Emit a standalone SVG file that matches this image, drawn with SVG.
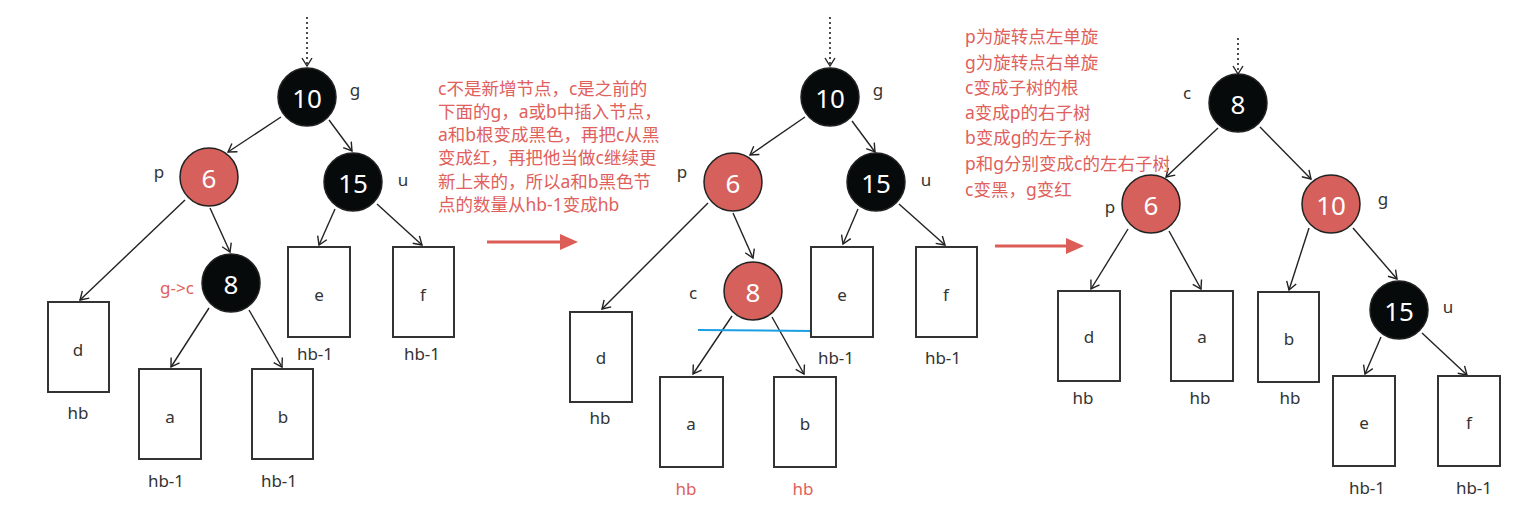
<svg xmlns="http://www.w3.org/2000/svg" width="1529" height="518" viewBox="0 0 1529 518">
<style>
text{font-family:"Noto Sans","Noto Sans CJK SC",sans-serif}
.blk{fill:#060a0b;stroke:#222;stroke-width:1.5}
.red{fill:#d6605b;stroke:#222;stroke-width:1.5}
.num{fill:#fff;font-size:26px;text-anchor:middle;dominant-baseline:central}
.lbl{fill:#333;font-size:17px;text-anchor:middle;dominant-baseline:central}
.box{fill:#fff;stroke:#333;stroke-width:2}
.bl{fill:#333;font-size:17px;text-anchor:middle;dominant-baseline:central}
.rl{fill:#e0605b;font-size:17px;text-anchor:middle;dominant-baseline:central}
.note{fill:#e0605b;font-size:17.5px}
.edge{stroke:#222;stroke-width:1.4;fill:none;marker-end:url(#ah)}
.dot{stroke:#222;stroke-width:1.6;fill:none;stroke-dasharray:2,3;marker-end:url(#ah)}
.big{stroke:#dc5c56;stroke-width:3;fill:none}
</style>
<defs>
<marker id="ah" markerWidth="12" markerHeight="12" refX="10" refY="6" orient="auto" markerUnits="userSpaceOnUse">
<path d="M2,1 L10,6 L2,11" fill="none" stroke="#222" stroke-width="1.4"/>
</marker>
</defs>
<rect width="1529" height="518" fill="#fff"/>

<g id="connectors">
<!-- left tree -->
<line class="dot" x1="307" y1="17" x2="307" y2="66"/>
<line class="edge" x1="281" y1="117" x2="228" y2="152"/>
<line class="edge" x1="329" y1="120" x2="352" y2="151"/>
<line class="edge" x1="185" y1="200" x2="80" y2="300"/>
<line class="edge" x1="210" y1="208" x2="230" y2="252"/>
<line class="edge" x1="335" y1="209" x2="319" y2="245"/>
<line class="edge" x1="377" y1="204" x2="422" y2="245"/>
<line class="edge" x1="209" y1="308" x2="171" y2="367"/>
<line class="edge" x1="249" y1="310" x2="282" y2="367"/>
<!-- middle tree -->
<line class="dot" x1="830" y1="17" x2="830" y2="66"/>
<line class="edge" x1="805" y1="117" x2="750" y2="155"/>
<line class="edge" x1="852" y1="121" x2="875" y2="152"/>
<line class="edge" x1="708" y1="203" x2="602" y2="309"/>
<line class="edge" x1="733" y1="213" x2="753" y2="258"/>
<line class="edge" x1="858" y1="209" x2="843" y2="244"/>
<line class="edge" x1="899" y1="204" x2="945" y2="245"/>
<line class="edge" x1="732" y1="316" x2="693" y2="374"/>
<line class="edge" x1="772" y1="317" x2="804" y2="374"/>
<!-- right tree -->
<line class="dot" x1="1238" y1="38" x2="1238" y2="74"/>
<line class="edge" x1="1218" y1="128" x2="1166" y2="177"/>
<line class="edge" x1="1260" y1="127" x2="1311" y2="179"/>
<line class="edge" x1="1128" y1="229" x2="1091" y2="289"/>
<line class="edge" x1="1169" y1="231" x2="1201" y2="289"/>
<line class="edge" x1="1309" y1="228" x2="1289" y2="290"/>
<line class="edge" x1="1353" y1="228" x2="1397" y2="279"/>
<line class="edge" x1="1381" y1="337" x2="1365" y2="374"/>
<line class="edge" x1="1422" y1="333" x2="1467" y2="375"/>
<!-- big red arrows -->
<line class="big" x1="487" y1="242" x2="562" y2="242"/>
<path d="M560,234 L578,242 L560,250 Z" fill="#dc5c56"/>
<line class="big" x1="995" y1="246" x2="1068" y2="246"/>
<path d="M1066,238 L1084,246 L1066,254 Z" fill="#dc5c56"/>
<!-- blue mark -->
<line x1="698" y1="330" x2="813" y2="331" stroke="#1aa0e2" stroke-width="2"/>
</g>

<!-- LEFT TREE -->
<g id="L10"><circle class="blk" cx="307" cy="97" r="29"/><text class="num" x="307" y="98">10</text><text class="lbl" x="355" y="89">g</text></g>
<g id="L6"><circle class="red" cx="209" cy="177" r="29"/><text class="num" x="209" y="178">6</text><text class="lbl" x="159" y="171">p</text></g>
<g id="L15"><circle class="blk" cx="353" cy="182" r="29"/><text class="num" x="353" y="183">15</text><text class="lbl" x="403" y="179">u</text></g>
<g id="L8"><circle class="blk" cx="231" cy="283" r="29"/><text class="num" x="231" y="284">8</text><text class="rl" x="177" y="287">g-&gt;c</text></g>
<g id="Ld"><rect class="box" x="48" y="302" width="61" height="90"/><text class="bl" x="78" y="349">d</text><text class="bl" x="78" y="412">hb</text></g>
<g id="La"><rect class="box" x="139" y="369" width="62" height="90"/><text class="bl" x="170" y="416">a</text><text class="bl" x="166" y="480">hb-1</text></g>
<g id="Lb"><rect class="box" x="252" y="369" width="61" height="90"/><text class="bl" x="283" y="416">b</text><text class="bl" x="279" y="480">hb-1</text></g>
<g id="Le"><rect class="box" x="288" y="247" width="62" height="90"/><text class="bl" x="319" y="294">e</text><text class="bl" x="315" y="353">hb-1</text></g>
<g id="Lf"><rect class="box" x="393" y="247" width="61" height="90"/><text class="bl" x="423" y="294">f</text><text class="bl" x="422" y="353">hb-1</text></g>

<!-- MIDDLE NOTE -->
<g id="note1" class="note">
<text x="438" y="95">c不是新增节点，c是之前的</text>
<text x="438" y="118">下面的g，a或b中插入节点，</text>
<text x="438" y="141">a和b根变成黑色，再把c从黑</text>
<text x="438" y="164">变成红，再把他当做c继续更</text>
<text x="438" y="188">新上来的，所以a和b黑色节</text>
<text x="438" y="211">点的数量从hb-1变成hb</text>
</g>

<!-- MIDDLE TREE -->
<g id="M10"><circle class="blk" cx="830" cy="97" r="29"/><text class="num" x="830" y="98">10</text><text class="lbl" x="878" y="89">g</text></g>
<g id="M6"><circle class="red" cx="733" cy="182" r="29"/><text class="num" x="733" y="183">6</text><text class="lbl" x="682" y="171">p</text></g>
<g id="M15"><circle class="blk" cx="876" cy="182" r="29"/><text class="num" x="876" y="183">15</text><text class="lbl" x="926" y="179">u</text></g>
<g id="M8"><circle class="red" cx="753" cy="291" r="29"/><text class="num" x="753" y="292">8</text><text class="lbl" x="693" y="292">c</text></g>
<g id="Md"><rect class="box" x="570" y="312" width="62" height="90"/><text class="bl" x="601" y="357">d</text><text class="bl" x="600" y="417">hb</text></g>
<g id="Ma"><rect class="box" x="660" y="377" width="63" height="90"/><text class="bl" x="691" y="423">a</text><text class="rl" x="686" y="488">hb</text></g>
<g id="Mb"><rect class="box" x="774" y="377" width="62" height="90"/><text class="bl" x="805" y="423">b</text><text class="rl" x="803" y="488">hb</text></g>
<g id="Me"><rect class="box" x="811" y="247" width="62" height="90"/><text class="bl" x="842" y="294">e</text><text class="bl" x="836" y="357">hb-1</text></g>
<g id="Mf"><rect class="box" x="916" y="247" width="61" height="90"/><text class="bl" x="946" y="294">f</text><text class="bl" x="943" y="357">hb-1</text></g>

<!-- RIGHT NOTE -->
<g id="note2" class="note">
<text x="965" y="43">p为旋转点左单旋</text>
<text x="965" y="69">g为旋转点右单旋</text>
<text x="965" y="94">c变成子树的根</text>
<text x="965" y="119">a变成p的右子树</text>
<text x="965" y="144">b变成g的左子树</text>
<text x="965" y="170">p和g分别变成c的左右子树</text>
<text x="965" y="196">c变黑，g变红</text>
</g>

<!-- RIGHT TREE -->
<g id="R8"><circle class="blk" cx="1238" cy="103" r="29"/><text class="num" x="1238" y="104">8</text><text class="lbl" x="1187" y="92">c</text></g>
<g id="R6"><circle class="red" cx="1151" cy="204" r="29"/><text class="num" x="1151" y="205">6</text><text class="lbl" x="1110" y="206">p</text></g>
<g id="R10"><circle class="red" cx="1331" cy="204" r="29"/><text class="num" x="1331" y="205">10</text><text class="lbl" x="1383" y="198">g</text></g>
<g id="R15"><circle class="blk" cx="1399" cy="310" r="29"/><text class="num" x="1399" y="311">15</text><text class="lbl" x="1448" y="306">u</text></g>
<g id="Rd"><rect class="box" x="1058" y="291" width="62" height="90"/><text class="bl" x="1089" y="336">d</text><text class="bl" x="1083" y="397">hb</text></g>
<g id="Ra"><rect class="box" x="1171" y="291" width="62" height="90"/><text class="bl" x="1202" y="336">a</text><text class="bl" x="1200" y="397">hb</text></g>
<g id="Rb"><rect class="box" x="1258" y="292" width="61" height="90"/><text class="bl" x="1289" y="338">b</text><text class="bl" x="1290" y="397">hb</text></g>
<g id="Re"><rect class="box" x="1333" y="376" width="62" height="90"/><text class="bl" x="1364" y="422">e</text><text class="bl" x="1367" y="487">hb-1</text></g>
<g id="Rf"><rect class="box" x="1438" y="376" width="62" height="90"/><text class="bl" x="1469" y="422">f</text><text class="bl" x="1474" y="487">hb-1</text></g>
</svg>
